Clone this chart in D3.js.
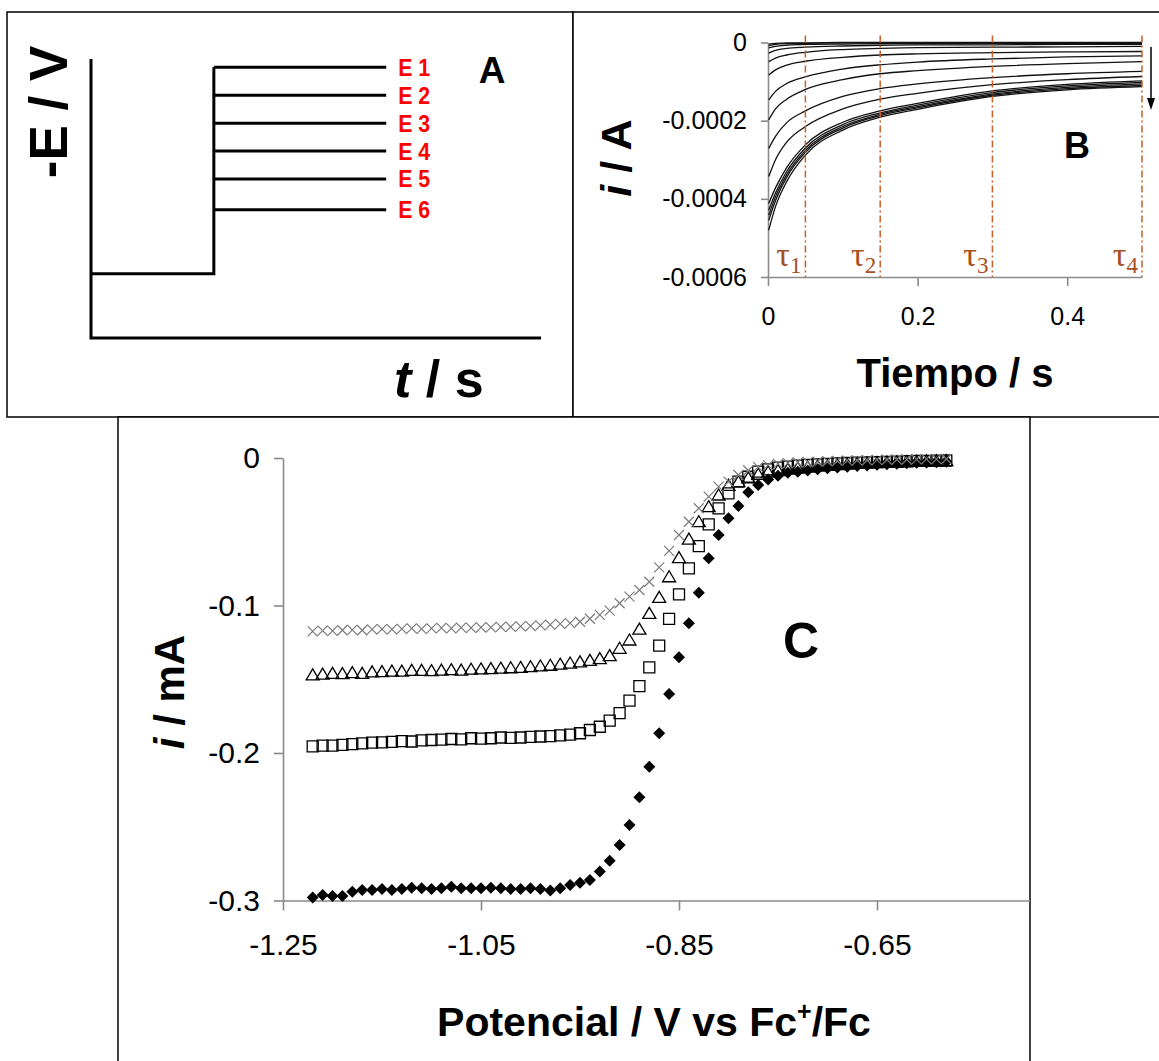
<!DOCTYPE html>
<html>
<head>
<meta charset="utf-8">
<script src="https://cdn.jsdelivr.net/npm/d3@7"></script>
<style>
  body { margin: 0; background: #fff; }
  svg text { font-family: Arial, "Liberation Sans", sans-serif; }
</style>
</head>
<body>
<div id="fig"></div>
<script>
// ---------- panel A : potential step programme ----------
var stepLabels = ["E 1", "E 2", "E 3", "E 4", "E 5", "E 6"];
var stepLevels = [0.97, 0.87, 0.77, 0.67, 0.57, 0.46];
var baseLevel = 0.23;
var stepTime = 0.273, stepEnd = 0.656;

// ---------- panel B : current transients ----------
var tB = [0.001, 0.01, 0.025, 0.05, 0.1, 0.15, 0.2, 0.3, 0.4, 0.5];
// current in microamps, one row per transient
var transients = [
  [-480, -420, -356, -288, -224, -191, -171, -138, -121, -113],
  [-455, -405, -345, -281, -219, -187, -167, -135, -118, -110],
  [-442, -395, -338, -276, -215, -184, -164, -132, -115, -106],
  [-429, -385, -330, -270, -210, -180, -160, -128, -111, -102],
  [-412, -372, -320, -262, -204, -175, -156, -124, -107, -98],
  [-343, -300, -255, -215, -170, -145, -130, -108, -95, -87],
  [-271, -240, -205, -175, -138, -118, -106, -90, -80, -74],
  [-198, -170, -145, -120, -95, -80, -72, -61, -54, -49],
  [-147, -125, -105, -88, -68, -57, -50, -42, -37, -34],
  [-83, -70, -58, -48, -38, -32, -29, -26, -24, -23],
  [-49, -40, -32, -25, -18, -15, -13, -12, -11, -10],
  [-27, -20, -15, -12, -9, -7, -6, -6, -5, -5],
  [-14, -10, -7, -5, -4, -3, -3, -2, -2, -2],
  [-8, -5, -3, -2, -1, -1, -1, -1, -1, -1],
  [-4, -2, -1, -1, 0, 0, 0, 0, 0, 0]
];
var tauTimes = [0.05, 0.15, 0.3, 0.5];
var tauNames = ["1", "2", "3", "4"];
var bYTicks = [0, -200, -400, -600];
var bXTicks = [0, 0.2, 0.4];

// ---------- panel C : sampled-current voltammograms ----------
var potentials = [
  -1.22, -1.21, -1.20, -1.19, -1.18, -1.17, -1.16, -1.15, -1.14, -1.13,
  -1.12, -1.11, -1.10, -1.09, -1.08, -1.07, -1.06, -1.05, -1.04, -1.03,
  -1.02, -1.01, -1.00, -0.99, -0.98, -0.97, -0.96, -0.95, -0.94, -0.93,
  -0.92, -0.91, -0.90, -0.89, -0.88, -0.87, -0.86, -0.85, -0.84, -0.83,
  -0.82, -0.81, -0.80, -0.79, -0.78, -0.77, -0.76, -0.75, -0.74, -0.73,
  -0.72, -0.71, -0.70, -0.69, -0.68, -0.67, -0.66, -0.65, -0.64, -0.63,
  -0.62, -0.61, -0.60, -0.59, -0.58
];
var iDiamond = [
  -0.2979, -0.2963, -0.2969, -0.2969, -0.2940, -0.2929, -0.2929, -0.2922, -0.2929, -0.2922,
  -0.2913, -0.2917, -0.2922, -0.2917, -0.2906, -0.2917, -0.2917, -0.2917, -0.2913, -0.2917,
  -0.2922, -0.2922, -0.2917, -0.2922, -0.2933, -0.2917, -0.2895, -0.2879, -0.2861, -0.2804,
  -0.2730, -0.2624, -0.2488, -0.2300, -0.2093, -0.1866, -0.1600, -0.1351, -0.1120, -0.0913,
  -0.0680, -0.0522, -0.0409, -0.0325, -0.0233, -0.0183, -0.0145, -0.0120, -0.0100, -0.0093,
  -0.0085, -0.0077, -0.0070, -0.0064, -0.0059, -0.0054, -0.0050, -0.0046, -0.0042, -0.0039,
  -0.0036, -0.0033, -0.0030, -0.0028, -0.0026
];
var iSquare = [
  -0.1955, -0.1950, -0.1950, -0.1945, -0.1940, -0.1935, -0.1930, -0.1928, -0.1925, -0.1920,
  -0.1922, -0.1915, -0.1912, -0.1910, -0.1905, -0.1908, -0.1900, -0.1902, -0.1900, -0.1895,
  -0.1898, -0.1895, -0.1890, -0.1888, -0.1885, -0.1880, -0.1875, -0.1866, -0.1844, -0.1822,
  -0.1780, -0.1730, -0.1645, -0.1546, -0.1420, -0.1272, -0.1090, -0.0924, -0.0748, -0.0597,
  -0.0450, -0.0341, -0.0240, -0.0160, -0.0127, -0.0093, -0.0077, -0.0065, -0.0058, -0.0052,
  -0.0047, -0.0043, -0.0040, -0.0037, -0.0034, -0.0032, -0.0030, -0.0028, -0.0026, -0.0024,
  -0.0022, -0.0020, -0.0019, -0.0018, -0.0017
];
var iTriangle = [
  -0.1470, -0.1465, -0.1460, -0.1462, -0.1455, -0.1460, -0.1450, -0.1448, -0.1445, -0.1445,
  -0.1440, -0.1440, -0.1442, -0.1438, -0.1435, -0.1438, -0.1432, -0.1430, -0.1428, -0.1425,
  -0.1422, -0.1420, -0.1415, -0.1410, -0.1405, -0.1398, -0.1390, -0.1382, -0.1372, -0.1360,
  -0.1340, -0.1290, -0.1234, -0.1160, -0.1053, -0.0945, -0.0805, -0.0675, -0.0550, -0.0432,
  -0.0330, -0.0251, -0.0185, -0.0160, -0.0135, -0.0110, -0.0095, -0.0085, -0.0075, -0.0068,
  -0.0061, -0.0055, -0.0050, -0.0045, -0.0041, -0.0037, -0.0034, -0.0031, -0.0028, -0.0026,
  -0.0024, -0.0022, -0.0020, -0.0019, -0.0018
];
var iCross = [
  -0.1175, -0.1170, -0.1172, -0.1168, -0.1165, -0.1168, -0.1162, -0.1160, -0.1162, -0.1158,
  -0.1155, -0.1158, -0.1155, -0.1152, -0.1155, -0.1150, -0.1152, -0.1148, -0.1148, -0.1145,
  -0.1145, -0.1142, -0.1140, -0.1135, -0.1130, -0.1125, -0.1120, -0.1110, -0.1090, -0.1064,
  -0.1035, -0.0985, -0.0940, -0.0895, -0.0839, -0.0742, -0.0630, -0.0522, -0.0432, -0.0341,
  -0.0262, -0.0194, -0.0160, -0.0115, -0.0085, -0.0062, -0.0048, -0.0040, -0.0035, -0.0030,
  -0.0028, -0.0025, -0.0022, -0.0020, -0.0018, -0.0016, -0.0015, -0.0013, -0.0012, -0.0010,
  -0.0010, -0.0009, -0.0008, -0.0008, -0.0007
];
var cYTicks = [0, -0.1, -0.2, -0.3];
var cXTicks = [-1.25, -1.05, -0.85, -0.65, -0.45];

var svg = d3.select("#fig").append("svg")
    .attr("width", 1159)
    .attr("height", 1061);

var axisGray = "#8a8a8a";

const styleAxis = (g, fontSize) => {
    g.select(".domain").attr("stroke", axisGray).attr("stroke-width", 1.6);
    g.selectAll(".tick line").attr("stroke", axisGray).attr("stroke-width", 1.6);
    g.selectAll(".tick text")
        .attr("fill", "#000")
        .style("font-size", fontSize + "px")
        .style("font-family", "Arial, 'Liberation Sans', sans-serif");
};

// panel frames
svg.append("rect").attr("x", 7).attr("y", 12).attr("width", 566).attr("height", 405)
    .attr("fill", "#fff").attr("stroke", "#000").attr("stroke-width", 1.5);
svg.append("rect").attr("x", 573).attr("y", 12).attr("width", 620).attr("height", 405)
    .attr("fill", "#fff").attr("stroke", "#000").attr("stroke-width", 1.5);

// ================= panel A =================
var xA = d3.scaleLinear().domain([0, 1]).range([91, 541]);
var yA = d3.scaleLinear().domain([0, 1]).range([338, 59]);
var gA = svg.append("g");

gA.append("path")
    .attr("d", "M" + xA(0) + "," + yA(1) + "V" + yA(0) + "H" + xA(1))
    .attr("fill", "none").attr("stroke", "#000").attr("stroke-width", 3);
gA.append("path")
    .attr("d", "M" + xA(0) + "," + yA(baseLevel) + "H" + xA(stepTime) + "V" + yA(stepLevels[0]))
    .attr("fill", "none").attr("stroke", "#000").attr("stroke-width", 3);
gA.selectAll("line.level")
    .data(stepLevels)
    .enter()
    .append("line")
    .attr("class", "level")
    .attr("x1", xA(stepTime)).attr("x2", xA(stepEnd))
    .attr("y1", (d) => yA(d)).attr("y2", (d) => yA(d))
    .attr("stroke", "#000").attr("stroke-width", 3);
gA.selectAll("text.elab")
    .data(stepLevels)
    .enter()
    .append("text")
    .attr("class", "elab")
    .attr("x", xA(stepEnd) + 12)
    .attr("y", (d) => yA(d) + 8.5)
    .attr("fill", "#ff0000")
    .attr("textLength", 32).attr("lengthAdjust", "spacingAndGlyphs")
    .style("font-size", "23px").style("font-weight", "bold")
    .text((d, i) => stepLabels[i]);

gA.append("text").attr("x", 492).attr("y", 83).attr("text-anchor", "middle")
    .style("font-size", "37px").style("font-weight", "bold").text("A");
gA.append("text").attr("transform", "translate(67,112) rotate(-90)")
    .attr("text-anchor", "middle")
    .style("font-size", "53px").style("font-weight", "bold").text("-E / V");
var tsLabel = gA.append("text").attr("x", 394).attr("y", 397)
    .style("font-size", "52px").style("font-weight", "bold");
tsLabel.append("tspan").style("font-style", "italic").text("t");
tsLabel.append("tspan").text(" / s");

// ================= panel B =================
var xB = d3.scaleLinear().domain([0, 0.5]).range([768, 1142]);
var yB = d3.scaleLinear().domain([-600, 0]).range([277, 42.5]);
var gB = svg.append("g");

gB.append("g")
    .attr("transform", "translate(0," + yB(-600) + ")")
    .call(d3.axisBottom(xB).tickValues(bXTicks).tickSize(9).tickPadding(21).tickSizeOuter(0)
        .tickFormat((d) => d === 0 ? "0" : d.toFixed(1)))
    .call((g) => styleAxis(g, 25));
gB.append("g")
    .attr("transform", "translate(" + xB(0) + ",0)")
    .call(d3.axisLeft(yB).tickValues(bYTicks).tickSize(7).tickPadding(14).tickSizeOuter(0)
        .tickFormat((d) => d === 0 ? "0" : (d * 1e-6).toFixed(4)))
    .call((g) => styleAxis(g, 25));

var transLine = d3.line()
    .x((d, i) => xB(tB[i]))
    .y((d) => yB(d))
    .curve(d3.curveMonotoneX);
gB.selectAll("path.trans")
    .data(transients)
    .enter()
    .append("path")
    .attr("class", "trans")
    .attr("d", transLine)
    .attr("fill", "none")
    .attr("stroke", "#111")
    .attr("stroke-width", 1.3);

gB.selectAll("line.tau")
    .data(tauTimes)
    .enter()
    .append("line")
    .attr("class", "tau")
    .attr("x1", (d) => xB(d)).attr("x2", (d) => xB(d))
    .attr("y1", yB(0) - 7).attr("y2", yB(-600))
    .attr("stroke", "#c8602a").attr("stroke-width", 1.5)
    .attr("stroke-dasharray", "7,3,2,3");
var tauText = gB.selectAll("text.tau")
    .data(tauTimes)
    .enter()
    .append("text")
    .attr("class", "tau")
    .attr("x", (d) => xB(d) - 4)
    .attr("y", 266)
    .attr("text-anchor", "end")
    .attr("fill", "#a8501e")
    .style("font-family", "'Liberation Serif', 'DejaVu Serif', serif")
    .style("font-size", "34px");
tauText.append("tspan").text("τ");
tauText.append("tspan").attr("dy", 7).style("font-size", "23px").text((d, i) => tauNames[i]);

// arrow showing increasing overpotential
gB.append("line").attr("x1", 1151).attr("x2", 1151).attr("y1", 47).attr("y2", 100)
    .attr("stroke", "#000").attr("stroke-width", 1.5);
gB.append("path").attr("d", "M1147,98 L1155,98 L1151,110 Z").attr("fill", "#000");

gB.append("text").attr("x", 1077).attr("y", 158).attr("text-anchor", "middle")
    .style("font-size", "36px").style("font-weight", "bold").text("B");
var iaLabel = gB.append("text").attr("transform", "translate(631,158) rotate(-90)")
    .attr("text-anchor", "middle")
    .style("font-size", "43px").style("font-weight", "bold");
iaLabel.append("tspan").style("font-style", "italic").text("i");
iaLabel.append("tspan").text(" / A");
gB.append("text").attr("x", 955).attr("y", 387).attr("text-anchor", "middle")
    .style("font-size", "40px").style("font-weight", "bold").text("Tiempo / s");

// ================= panel C =================
svg.append("defs").append("clipPath").attr("id", "clipC")
    .append("rect").attr("x", 118).attr("y", 417).attr("width", 912).attr("height", 700);
svg.append("rect").attr("x", 118).attr("y", 417).attr("width", 912).attr("height", 700)
    .attr("fill", "#fff").attr("stroke", "#000").attr("stroke-width", 1.5);

var xC = d3.scaleLinear().domain([-1.25, -0.45]).range([283, 1075]);
var yC = d3.scaleLinear().domain([-0.3, 0]).range([900.5, 458]);
var gC = svg.append("g").attr("clip-path", "url(#clipC)");

gC.append("g")
    .attr("transform", "translate(0," + yC(-0.3) + ")")
    .call(d3.axisBottom(xC).tickValues(cXTicks).tickSize(10).tickPadding(23).tickSizeOuter(0)
        .tickFormat((d) => d.toFixed(2)))
    .call((g) => styleAxis(g, 30));
gC.append("g")
    .attr("transform", "translate(" + xC(-1.25) + ",0)")
    .call(d3.axisLeft(yC).tickValues(cYTicks).tickSize(9).tickPadding(14).tickSizeOuter(0)
        .tickFormat((d) => d === 0 ? "0" : d.toFixed(1)))
    .call((g) => styleAxis(g, 30));

var diamondPath = "M0,-6L6,0L0,6L-6,0Z";
var squarePath = "M-5.5,-5.5H5.5V5.5H-5.5Z";
var trianglePath = "M0,-6L6.5,5L-6.5,5Z";
var crossPath = "M-5,-5L5,5M-5,5L5,-5";

const drawSeries = (values, shape, fill, stroke, width) => {
    gC.append("g")
        .selectAll("path")
        .data(values)
        .enter()
        .append("path")
        .attr("transform", (d, i) => "translate(" + xC(potentials[i]) + "," + yC(d) + ")")
        .attr("d", shape)
        .attr("fill", fill)
        .attr("stroke", stroke)
        .attr("stroke-width", width);
};
drawSeries(iDiamond, diamondPath, "#000", "none", 0);
drawSeries(iSquare, squarePath, "none", "#000", 1.3);
drawSeries(iTriangle, trianglePath, "none", "#000", 1.3);
drawSeries(iCross, crossPath, "none", "#7a7a7a", 1.2);

gC.append("text").attr("x", 801).attr("y", 658).attr("text-anchor", "middle")
    .style("font-size", "50px").style("font-weight", "bold").text("C");
var imaLabel = gC.append("text").attr("transform", "translate(184,692) rotate(-90)")
    .attr("text-anchor", "middle")
    .style("font-size", "42px").style("font-weight", "bold");
imaLabel.append("tspan").style("font-style", "italic").text("i");
imaLabel.append("tspan").text(" / mA");
var potLabel = gC.append("text").attr("x", 654).attr("y", 1036).attr("text-anchor", "middle")
    .style("font-size", "41px").style("font-weight", "bold");
potLabel.append("tspan").text("Potencial / V vs Fc");
potLabel.append("tspan").attr("dy", -16).style("font-size", "25px").text("+");
potLabel.append("tspan").attr("dy", 16).text("/Fc");
</script>
</body>
</html>
